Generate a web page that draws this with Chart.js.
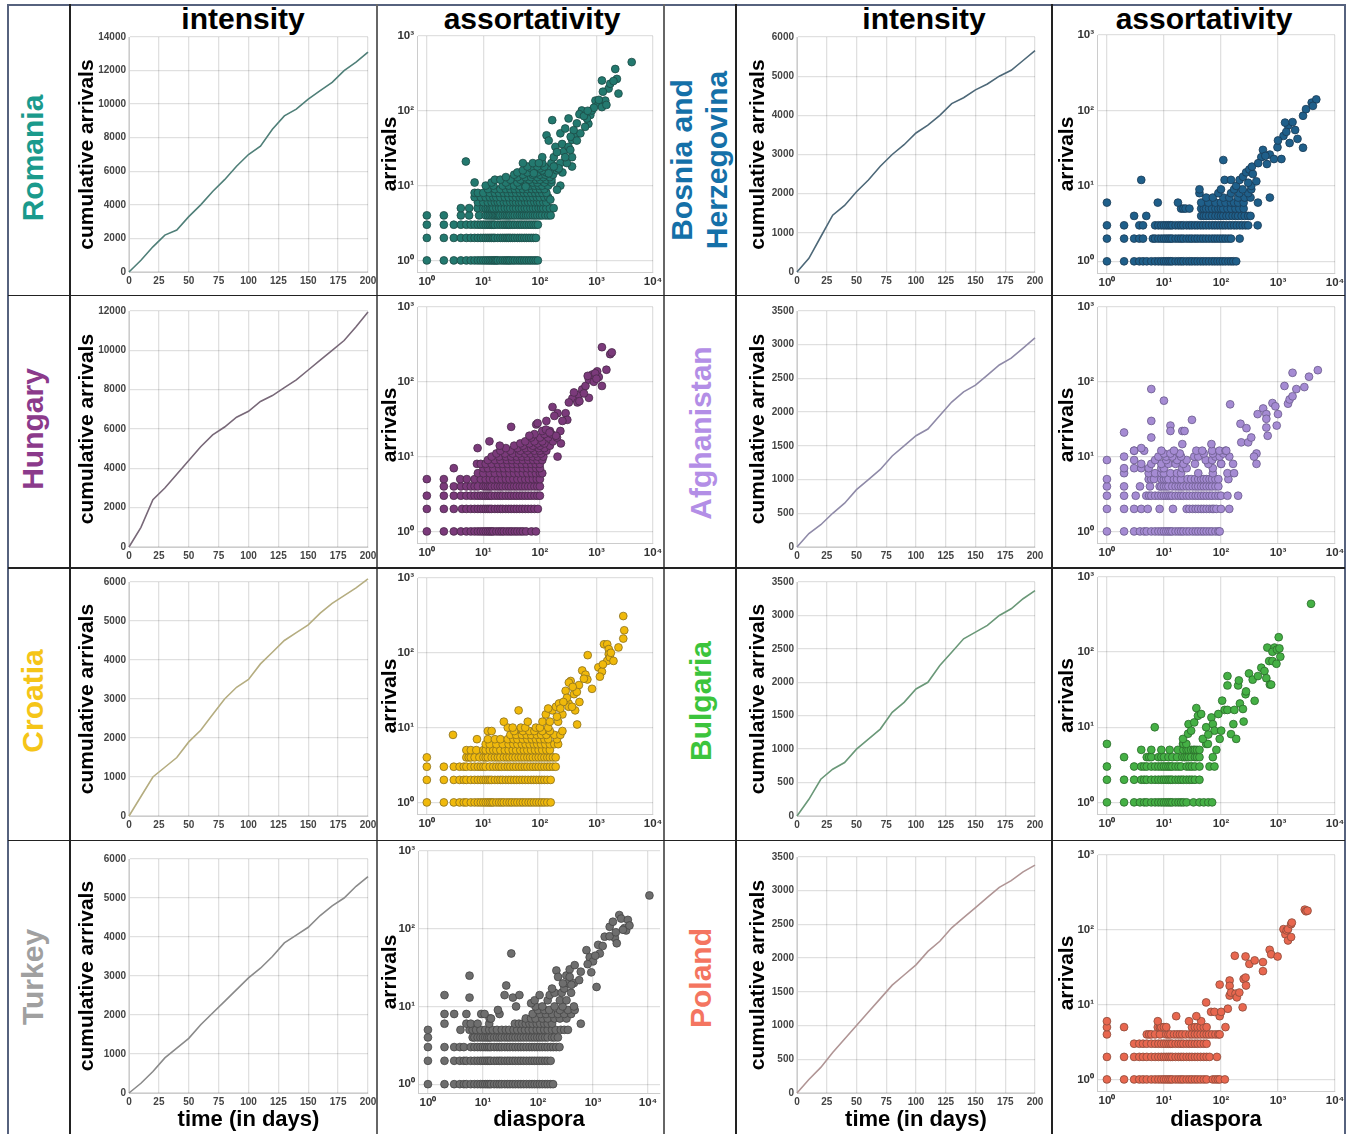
<!DOCTYPE html>
<html>
<head>
<meta charset="utf-8">
<script src="https://cdn.jsdelivr.net/npm/chart.js@4.4.0/dist/chart.umd.min.js"></script>
<style>
  body { margin: 0; background: #fff; font-family: "Liberation Sans", Arial, sans-serif; }
  #fig { position: relative; width: 1351px; height: 1134px; overflow: hidden; background: #fff; }
  #fig canvas { position: absolute; }
  .rule { position: absolute; z-index: 5; }
  .hdr { position: absolute; font-weight: bold; font-size: 30px; line-height: 30px; white-space: nowrap; transform: translate(-50%, -50%); color: #000; }
  .country { position: absolute; font-weight: bold; font-size: 30px; line-height: 35px; white-space: nowrap; text-align: center; transform: translate(-50%, -50%) rotate(-90deg); }
</style>
</head>
<body>
<div id="fig"></div>
<script>
// ---- data ----
const days = [0, 10, 20, 30, 40, 50, 60, 70, 80, 90, 100, 110, 120, 130, 140, 150, 160, 170, 180, 190, 200];
const decadeTicks = [1, 10, 100, 1000, 10000];
const sup = ['⁰', '¹', '²', '³', '⁴'];

const romaniaLine = [0, 700, 1500, 2200, 2500, 3300, 4000, 4800, 5500, 6300, 7000, 7500, 8500, 9300, 9700, 10300, 10800, 11300, 12000, 12500, 13100];
const hungaryLine = [0, 1000, 2400, 3000, 3700, 4400, 5100, 5700, 6100, 6600, 6900, 7400, 7700, 8100, 8500, 9000, 9500, 10000, 10500, 11200, 11950];
const croatiaLine = [0, 500, 1000, 1250, 1500, 1900, 2200, 2600, 3000, 3300, 3500, 3900, 4200, 4500, 4700, 4900, 5200, 5450, 5650, 5850, 6080];
const turkeyLine = [0, 250, 550, 900, 1150, 1400, 1750, 2050, 2350, 2650, 2950, 3200, 3500, 3850, 4050, 4250, 4550, 4800, 5000, 5300, 5550];
const bosniaLine = [0, 350, 900, 1450, 1700, 2050, 2350, 2700, 3000, 3250, 3550, 3750, 4000, 4300, 4450, 4650, 4800, 5000, 5150, 5400, 5650];
const afghanistanLine = [0, 200, 330, 500, 650, 850, 1000, 1150, 1350, 1500, 1650, 1750, 1950, 2150, 2300, 2400, 2550, 2700, 2800, 2950, 3100];
const bulgariaLine = [0, 250, 550, 700, 800, 1000, 1150, 1300, 1550, 1700, 1900, 2000, 2250, 2450, 2650, 2750, 2850, 3000, 3100, 3250, 3370];
const polandLine = [0, 200, 380, 600, 800, 1000, 1200, 1400, 1600, 1750, 1900, 2100, 2250, 2450, 2600, 2750, 2900, 3050, 3150, 3280, 3380];

// scatter: rows of [arrivals, [diaspora values...]] plus loose [diaspora, arrivals] points
const romaniaRows = [
  [1, [1,2,3,4,5,6,7,8,9,10,11,12,13,14,15,16,17,18,20,22,24,26,28,30,33,36,40,44,48,53,58,64,70,77,84,92]],
  [2, [1,2,3,4,5,6,7,8,9,10,11,12,13,14,15,16,18,20,22,24,26,28,30,33,36,40,44,48,53,58,64,70,77,85]],
  [3, [1,2,3,4,5,6,7,8,9,10,11,12,13,14,15,16,18,20,22,24,26,28,30,33,36,40,44,48,53,58,64,70,77,84,92]],
  [4, [1,2,4,5.6,8.4,11,12,13,14,15,16,17,18,19,20,22,24,26,28,30,33,36,40,44,48,52,57,62,68,75,82,90,100,110,125,140,155]],
  [5, [4,5.6,7.9,10,11,12,13,14,15,17,19,21,24,27,30,34,38,43,48,54,60,68,76,85,95,105,115,130,150,175]],
  [6, [8,10,12,14,16,18,20,23,26,30,34,38,43,48,55,62,70,80,90,100,115,130]],
  [7, [7,9,11,13,15,17,20,24,28,33,38,44,50,58,66,76,88,100,120,140]],
  [8, [7,8,10,13,16,19,23,27,32,38,45,52,60,70,82,95,110,130]],
  [9, [12,16,20,25,30,36,43,50,60,72,85,100,120]],
  [10, [11,15,22,28,35,44,55,66,80,95,110,140,230]],
  [11, [7,14,25,40,60,75,90,120,160]],
  [12, [16,20,30,45,65,85,100,130,160]],
  [13, [25,40,55,70,90,115,150]],
  [14, [35,50,75,100,125,170]],
  [15, [40,60,90,130,250]],
  [16, [50,80,110,150,200]],
  [17, [70,100,140,210]],
  [18, [60,90,120,180,370]],
  [20, [50,75,110,160,230,300]]
];
const romaniaPts = [[4.9,21],[131,47],[165,75],[321,79],[188,33],[230,50],[370,41],[550,101],[780,88],[720,67],[960,137],[1250,254],[1640,198],[2150,362],[2450,170],[2300,267],[4200,448],[1430,137],[1090,124],[450,68],[280,58],[247,36],[176,24],[143,40],[110,24],[96,20],[78,14.6],[153,6.5],[201,8.8],[56,9.7],[264,28.5],[321,33],[420,47],[630,61],[520,50],[830,101],[1250,112],[1750,230],[370,24],[215,17],[280,24],[395,55],[345,30],[680,79],[143,14.6],[176,18],[500,90],[600,85],[900,110],[1100,140],[2000,250],[1500,120],[200,28],[350,45],[450,40],[700,100],[1300,180]];

const hungaryRows = [
  [1, [1,2,3,4,5,6,7,8,9,10,11,12,13,14,15,17,19,21,23,26,29,32,36,40,45,50,57,71,85]],
  [2, [1,2,3,4.2,5,6,7,8,9,10,11,12,13,14,16,18,20,22,25,28,31,35,39,44,49,55,62,70,80,92]],
  [3, [1,2,3,4,5,6,7,8,9,10,11,12,13,14,16,18,20,22,25,28,31,35,39,44,49,55,62,70,80,90,100]],
  [4, [2,3,4,5,6,7,8,10,11,12,13,14,16,18,20,22,25,28,31,35,39,44,49,55,62,70,80,90,100]],
  [5, [1,2,3.9,5.1,7,9,11,13,15,18,21,25,29,34,40,47,55,64,75,88,100]],
  [6, [8,10,13,16,20,24,29,35,42,50,60,72,85,100,110]],
  [7, [3,10,12,15,19,23,28,34,41,50,60,72,86,100]],
  [8, [7.7,9,11,14,18,22,27,33,40,48,58,70,84,100]],
  [9, [12,16,20,26,32,40,50,62,76,90,110]],
  [10, [14,19,25,31,39,48,60,75,92,115,205]],
  [11, [17,24,33,43,55,68,85,105]],
  [12, [20,30,45,60,80,100,130]],
  [13, [7.9,25,40,55,70,95,120]],
  [14, [19.5,35,50,75,100,150]],
  [15, [45,65,90,120,235]],
  [16, [12.8,55,80,110,170]],
  [18, [70,100,140,200]],
  [20, [80,120,160]],
  [22, [110,150,230]]
];
const hungaryPts = [[31,25],[86,26.9],[65,19],[167,46],[205,38],[285,38],[305,31],[192,19],[128,23],[91,28],[148,21],[375,60],[490,67],[560,79],[640,88],[735,107],[840,125],[1030,138],[1250,88],[1100,116],[1250,290],[1750,234],[1870,247],[1500,145],[460,53],[735,61],[400,72],[325,53],[250,30],[180,35],[130,30],[600,70],[900,100],[950,130],[700,120],[1000,110],[500,55]];

const croatiaRows = [
  [1, [1,2,3,3.8,4.5,5,6,7,8,9,10,11,12,13,14,15,17,19,21,23,26,29,32,36,40,45,50,56,63,70,78,87,97,108,120,135,155]],
  [2, [1,2,3,3.8,4.5,5,6,7,8,9,10,11,12,13,14,16,18,20,22,25,28,31,35,39,44,49,55,62,70,78,87,97,108,120,135,155]],
  [3, [1,2,3,3.8,4.5,5,6,7,8,9,10,11,13,15,17,19,21,24,27,30,34,38,43,48,54,60,68,76,85,95,107,120,135,150,170,190]],
  [4, [1,5,5.5,6,7,8.5,10,11,12,14,16,18,20,23,26,29,33,37,42,47,53,60,67,75,85,95,107,120,135,150,170,190]],
  [5, [5,6,7.5,10,11,13,15,17,20,24,28,33,38,45,52,60,70,82,95,110,130,150]],
  [6, [11,13,17,22,28,34,40,48,56,66,78,90,105,125,150,180,210]],
  [7, [7.7,12,16,20,27,34,40,50,60,72,85,100,120,140,200]],
  [8, [2.9,30,38,48,58,70,88,105,130,180,230]],
  [9, [12,14,35,50,65,80,110,150,250]],
  [10, [27,33,46,55,85,100,140]],
  [11, [455]],
  [12, [23,61,111,150,210]]
];
const croatiaPts = [[42,17],[127,15],[167,17],[192,19],[218,21],[250,15],[322,21],[420,17],[285,31],[350,42],[325,40],[490,37],[400,28],[322,19],[560,58],[640,51],[690,44],[835,33],[700,93],[1080,64],[1250,56],[1150,48],[1360,130],[1550,130],[1650,112],[1650,96],[1550,78],[1730,87],[2000,78],[2450,118],[2980,155],[3100,200],[2980,310],[370,19],[300,25],[260,22],[450,30],[200,14],[140,18],[600,45],[1300,70],[1800,100],[380,35],[230,18],[500,22]];

const turkeyRows = [
  [1, [1,2,3,3.8,4.5,5,6,7,8,9,10,11,12,13,14,16,18,20,22,25,28,31,35,39,44,49,55,62,70,78,87,97,108,120,135,150,168,188]],
  [2, [1,2,3,3.8,4.5,5,6,7,8,9,10,11,12,13,14,16,18,20,22,25,28,31,35,39,44,49,55,62,70,78,87,97,108,120,135,150,170]],
  [3, [1,2,3,3.8,4.5,6,7,8,9,10,11,12,13,14,16,18,20,22,25,28,31,35,39,44,49,55,62,70,78,87,97,108,120,135,150,170,190,215,246]],
  [4, [1,6.5,7,8,9,10,11,12,13,14,16,18,20,22,25,28,31,35,39,44,49,55,62,70,78,87,97,108,120,135,150,180,200,230]],
  [5, [1,3.9,5.7,6.5,7.5,9,11,13,15,18,22,26,30,36,42,50,58,68,80,95,110,130,150,180,210,260,300,350]],
  [6, [2,5,6,8,13,38,45,52,60,70,80,95,110,130,150,180,600]],
  [7, [13.2,14,60,75,90,120,150,200,250,330]],
  [8, [2,3,5,9.3,10.7,20,80,110,140,180,230,300,400]],
  [9, [18.7,100,130,160,250,350,465]],
  [10, [40,90,120,200,280,450]],
  [11, [75]],
  [12, [87,150,250,330]],
  [13, [5.7,35]],
  [14, [2,24.7,46,107,163]],
  [15, [200,270,400]],
  [17, [180,300]],
  [20, [350,450]]
];
const turkeyPts = [[5.7,24.9],[26.5,18.6],[32.7,48],[216,29],[232,24],[284,19.8],[328,25],[377,30],[465,34],[405,19],[560,21.8],[760,53],[870,43],[930,27.5],[1000,38],[1160,17.8],[1240,62],[1330,48],[1630,79],[2010,106],[2500,76],[2700,65],[2300,123],[3000,150],[3250,135],[3730,102],[4300,130],[4000,95],[3500,97],[4600,110],[10600,268],[377,24],[1100,45],[1500,60],[800,35],[600,28],[2000,80],[2600,90]];

const bosniaRows = [
  [1, [1,2,3,3.7,4.3,5,6,7,8,9,10,11,12,13,14,16,18,20,22,25,28,31,35,39,44,49,55,62,70,78,87,97,108,120,135,150,165,185]],
  [2, [1,2,3,3.7,4.3,6.4,7,8,9,10,11,12,13,14,16,18,20,22,25,28,31,35,39,44,49,55,62,70,78,87,97,108,120,135,150,213]],
  [3, [1,2,3.7,4.3,7,8,9,10,11,12,13,14,16,18,20,22,25,28,31,35,39,44,49,55,62,70,78,87,97,108,120,135,150,170,190,215,240,270,300,440]],
  [4, [3,4.9,45,50,55,62,70,80,90,100,110,125,140,160,180,200,230,260,300,330]],
  [5, [20,22,24,28,45,50,55,62,70,80,90,100,110,130,150,180,210,250]],
  [6, [1,7.8,17.6,45,60,80,100,120,150,170,200,250,445]],
  [7, [55,72,110,140,200,260,330,720]],
  [8, [42,90,150,210,300]],
  [9, [42,100,170,240,340]],
  [10, [185,340]],
  [12, [4,116,150,212]]
];
const bosniaPts = [[110,22],[243,13.2],[276,15.1],[315,16.5],[362,14.4],[417,11.5],[510,24],[545,30],[640,19.5],[720,26],[980,32.5],[1250,46],[1500,63],[1800,70],[1600,37],[2200,42],[2750,32],[850,22.7],[1150,22.7],[1400,52],[1330,69],[2750,85],[3100,104],[3900,127],[4700,140],[4100,115],[300,11],[350,18],[450,20],[600,25],[2000,55],[1000,40]];

const afghanistanRows = [
  [1, [1,2,3,3.8,4.5,5,6,7,8,9,10,11,12,13,14,16,18,20,22,25,28,32,36,40,45,50,56,63,70,80,90,95]],
  [2, [1,2,3,4,5.2,8.4,14.4,25,28,32,36,40,45,50,56,63,70,75,83,100,140]],
  [3, [1,2,3.2,4.9,5.5,6,7,8,9,10,11,12,13,14,16,18,20,22,25,28,32,36,40,45,50,56,63,70,80,90,100,130,200]],
  [4, [1,2,3.8,5.7,8.4,9,10,11,12,14,16,18,20,22,25,28,32,36,40,45,50,56,63,70,80,90]],
  [5, [1,5.4,6,6.7,9,10,11,12,15,17,20,26,30,35,40,45,50,56,63,70,80,90,135]],
  [6, [2,5.4,7,9,10,13,17,20,40,72,130,170]],
  [7, [2,3,4,5.4,9,10,21,25,72]],
  [8, [4,6,9,12,16,22,35,60,100,101,163,420]],
  [9, [1,3,7,11,17,25,54,70]],
  [10, [2,8,11,14,20,34,40,80,95,140]],
  [11, [10,13,19,50,72,110,420]],
  [12, [3,4.5,9,15,37,47,70,94,120,124]]
];
const afghanistanPts = [[2,21],[3,12],[4,13],[6,80],[10,56],[6,30],[6,18],[13,26],[13,22],[21,22],[23,22],[21,14.7],[31,31],[68,14.7],[145,50],[220,27.5],[280,24],[227,15.5],[300,15.5],[340,18],[440,37],[550,44],[625,37],[625,32],[625,24.5],[660,19],[800,52],[900,47],[950,26],[1000,37],[1300,88],[1500,51],[1600,58],[1800,64],[1800,132],[2100,80],[2900,85],[3500,117],[5000,143],[380,10]];

const bulgariaRows = [
  [1, [1,2,3,3.8,4.5,5,6,7,8,9,10,11,12,13,14,16,18,20,22,25,33,42,50,60,70]],
  [2, [1,2,3,4,4.5,5,6,7,8,9,10,11,12,13,14,16,18,20,22,25,28,31,35,42]],
  [3, [1,3,4,4.5,5,6,7,8,9,10,11,12,13,14,16,18,20,25,28,31,35,42,63,77]],
  [4, [2,5,5.5,6,8,9,10,12,14,17,21,23,25,27,30,35,38,42,72]],
  [5, [4,6,9,12.6,17.6,22,25,27,30,33,35,38,42,83]],
  [6, [1,21.6,22,24.7,55,59]]
];
const bulgariaPts = [[6.9,10],[21.6,7],[26.5,8.2],[27,11],[30,9],[34,11.6],[37,18],[39.5,14.2],[45,15],[48,7],[55,10],[68,13.5],[72,11],[77,9],[95,7],[101,9],[105,22.6],[116,17],[130,17],[130,48],[130,36],[150,8.1],[165,11],[172,17],[185,7],[200,36],[206,42],[215,20.7],[243,17.5],[250,11.9],[270,27.5],[275,30],[310,52],[360,43],[390,22.5],[445,48],[510,62],[580,56],[625,45],[650,115],[700,76],[720,37],[760,37],[800,76],[870,115],[800,101],[940,70],[960,108],[1030,158],[1060,112],[1100,87],[3800,440],[90,15],[60,8]];

const polandRows = [
  [1, [1,2,3,3.7,4.3,5,6,7,8,9,10,11,12,13,14,16,18,20,22,25,28,31,35,39,44,50,56,72,80,88,95,117]],
  [2, [1,2,3,3.7,4.3,5,6,7,8,9,10,11,12,13,14,16,18,20,22,25,28,31,35,39,44,50,56,63,85]],
  [3, [3,3.7,4.3,5,6,7,8,9,10,11,12,13,14,16,18,20,22,25,28,31,35,39,44,50,56]],
  [4, [1,5,5.5,6,7,8.5,11,12,13,15,17,19,21,24,28,31,35,39,44,50,56,62,70,80,90,95]],
  [5, [1,2,7.8,8.5,9,10,11,31,35,39,44,50,56,120]],
  [6, [1,7.8,27.5,45]],
  [7, [16.4,37,95]],
  [8, [67,77,101]]
];
const polandPts = [[55,10.7],[95,18.5],[132,8.8],[142,21],[142,17.8],[142,13.2],[150,14.5],[175,45],[180,14],[190,12.5],[210,14.5],[240,9.2],[250,22],[270,23],[275,18],[270,44],[315,35],[390,39],[545,37],[545,28],[715,54],[760,47],[985,44],[1250,102],[1350,87],[1420,98],[1500,102],[1500,72],[1700,80],[1700,119],[1750,125],[2950,186],[3100,177],[3300,180]];

// ---- page frame ----
const fig = document.getElementById('fig');
const FONT = '"Liberation Sans", Arial, sans-serif';

function rule(x, y, w, h, color) {
  const d = document.createElement('div');
  d.className = 'rule';
  d.style.cssText = `left:${x}px;top:${y}px;width:${w}px;height:${h}px;background:${color};`;
  fig.appendChild(d);
}
function text(cls, str, x, y, color) {
  const d = document.createElement('div');
  d.className = cls;
  d.innerHTML = str;
  d.style.left = x + 'px';
  d.style.top = y + 'px';
  if (color) d.style.color = color;
  fig.appendChild(d);
}

// table lines
rule(8, 4, 1338, 2, '#56627e');
rule(7, 4, 2, 1130, '#56627e');
rule(1344, 4, 2, 1130, '#56627e');
rule(69, 4, 1.5, 1130, '#222');
rule(376, 4, 2, 1130, '#666');
rule(663, 4, 2, 1130, '#666');
rule(735, 4, 1.5, 1130, '#222');
rule(1051, 4, 1.5, 1130, '#222');
[294.5, 567, 839.5].forEach(y => rule(8, y, 1337, 1.5, '#222'));

text('hdr', 'intensity', 243, 19);
text('hdr', 'assortativity', 532, 19);
text('hdr', 'intensity', 924, 19);
text('hdr', 'assortativity', 1204, 19);

text('country', 'Romania', 32, 158, '#1a9a8c');
text('country', 'Hungary', 32, 429, '#8b3a8b');
text('country', 'Croatia', 32, 701, '#f5c518');
text('country', 'Turkey', 32, 977, '#a0a0a0');
text('country', 'Bosnia and<br>Herzegovina', 699, 160, '#1570a8');
text('country', 'Afghanistan', 700, 433, '#b38ee6');
text('country', 'Bulgaria', 700, 701, '#3cc43c');
text('country', 'Poland', 700, 978, '#f47560');

// ---- charts ----
function makeCanvas(x, y, w, h) {
  const c = document.createElement('canvas');
  c.width = w; c.height = h;
  c.style.left = x + 'px'; c.style.top = y + 'px';
  c.style.width = w + 'px'; c.style.height = h + 'px';
  fig.appendChild(c);
  return c;
}

const gridColor = 'rgba(0,0,0,0.12)';
const plain = v => String(v);

function titlePad(titleX, x0) {
  return Math.max(0, titleX - x0 - 12.6);
}

function intensityChart(colX, area, titleX, vals, yMax, yStep, color, last) {
  const top = area.t - 10;
  const xh = last ? 1134 - area.b : 22;
  const w = area.r + 14 - colX;
  const h = area.b + xh - top;
  const canvas = makeCanvas(colX, top, w, h);
  const tickFont = { family: FONT, size: 10, weight: 'bold' };
  new Chart(canvas, {
    type: 'line',
    data: {
      datasets: [{
        data: days.map((d, i) => ({ x: d, y: vals[i] })),
        borderColor: color,
        borderWidth: 1.6,
        pointRadius: 0,
        tension: 0,
        clip: 8
      }]
    },
    options: {
      responsive: false, animation: false, devicePixelRatio: 1,
      layout: { padding: { top: area.t - top, right: 14, left: 0, bottom: 0 } },
      plugins: { legend: { display: false }, tooltip: { enabled: false } },
      scales: {
        x: {
          type: 'linear', min: 0, max: 200,
          ticks: { stepSize: 25, callback: plain, font: tickFont, color: '#444', padding: 3, maxRotation: 0, autoSkip: false },
          grid: { color: gridColor, lineWidth: 1.3, drawTicks: false },
          border: { color: '#ccc' },
          title: { display: last, text: 'time (in days)', color: '#000', font: { family: FONT, size: 22, weight: 'bold' }, padding: { top: 0, bottom: 1 } },
          afterFit: s => { s.height = xh; }
        },
        y: {
          type: 'linear', min: 0, max: yMax,
          ticks: { stepSize: yStep, callback: plain, font: tickFont, color: '#444', padding: 3 },
          grid: { color: gridColor, lineWidth: 1.3, drawTicks: false },
          border: { color: '#ccc' },
          title: { display: true, text: 'cumulative arrivals', color: '#000', font: { family: FONT, size: 21, weight: 'bold' }, padding: { top: titlePad(titleX, colX), bottom: 0 } },
          afterFit: s => { s.width = area.l - colX; }
        }
      }
    }
  });
}

function toPoints(rows, pts) {
  const out = [];
  rows.forEach(([y, xs]) => xs.forEach(x => out.push({ x: x, y: y })));
  pts.forEach(([x, y]) => out.push({ x: x, y: y }));
  return out;
}

function decadeLabel(v) {
  const e = Math.round(Math.log10(v));
  return '10' + sup[e];
}

function scatterChart(colX, area, titleX, rows, pts, fill, edge, last, xMin, xMax, yMin) {
  const top = area.t - 10;
  const xh = last ? 1134 - area.b : 22;
  const w = area.r + 14 - colX;
  const h = area.b + xh - top;
  const canvas = makeCanvas(colX, top, w, h);
  const tickFont = { family: FONT, size: 11.5, weight: 'bold' };
  const decades = s => { s.ticks = decadeTicks.filter(v => v >= s.min && v <= s.max * 1.001).map(v => ({ value: v })); };
  new Chart(canvas, {
    type: 'scatter',
    data: {
      datasets: [{
        data: toPoints(rows, pts),
        backgroundColor: fill,
        borderColor: edge,
        borderWidth: 0.8,
        pointRadius: 3.9
      }]
    },
    options: {
      responsive: false, animation: false, devicePixelRatio: 1,
      layout: { padding: { top: area.t - top, right: 14, left: 0, bottom: 0 } },
      plugins: { legend: { display: false }, tooltip: { enabled: false } },
      scales: {
        x: {
          type: 'logarithmic', min: xMin, max: xMax,
          afterBuildTicks: decades,
          ticks: { callback: decadeLabel, font: tickFont, color: '#333', padding: 3, maxRotation: 0, autoSkip: false },
          grid: { color: gridColor, lineWidth: 1.3, drawTicks: false },
          border: { color: '#ccc' },
          title: { display: last, text: 'diaspora', color: '#000', font: { family: FONT, size: 22, weight: 'bold' }, padding: { top: 0, bottom: 1 } },
          afterFit: s => { s.height = xh; }
        },
        y: {
          type: 'logarithmic', min: yMin, max: 1000,
          afterBuildTicks: decades,
          ticks: { callback: decadeLabel, font: tickFont, color: '#333', padding: 3 },
          grid: { color: gridColor, lineWidth: 1.3, drawTicks: false },
          border: { color: '#ccc' },
          title: { display: true, text: 'arrivals', color: '#000', font: { family: FONT, size: 21, weight: 'bold' }, padding: { top: titlePad(titleX, colX), bottom: 0 } },
          afterFit: s => { s.width = area.l - colX; }
        }
      }
    }
  });
}

// intensity, left and right columns
intensityChart(71, { l: 129, r: 368, t: 37, b: 272 }, 87, romaniaLine, 14000, 2000, '#4f7f78', false);
intensityChart(71, { l: 129, r: 368, t: 311, b: 547 }, 87, hungaryLine, 12000, 2000, '#786878', false);
intensityChart(71, { l: 129, r: 368, t: 582, b: 816 }, 87, croatiaLine, 6000, 1000, '#b5ad80', false);
intensityChart(71, { l: 129, r: 368, t: 859, b: 1093 }, 87, turkeyLine, 6000, 1000, '#8a8a8a', true);
intensityChart(737, { l: 797, r: 1035, t: 37, b: 272 }, 758, bosniaLine, 6000, 1000, '#4d6878', false);
intensityChart(737, { l: 797, r: 1035, t: 311, b: 547 }, 758, afghanistanLine, 3500, 500, '#8f8aa8', false);
intensityChart(737, { l: 797, r: 1035, t: 582, b: 816 }, 758, bulgariaLine, 3500, 500, '#6a9878', false);
intensityChart(737, { l: 797, r: 1035, t: 857, b: 1093 }, 758, polandLine, 3500, 500, '#b09595', true);

// assortativity
scatterChart(378, { l: 417, r: 653, t: 36, b: 272 }, 390, romaniaRows, romaniaPts, '#23796f', '#1d4a45', false, 0.67, 10000, 0.71);
scatterChart(378, { l: 417, r: 653, t: 307, b: 543 }, 390, hungaryRows, hungaryPts, '#7b3a7b', '#4a2a4a', false, 0.67, 10000, 0.71);
scatterChart(378, { l: 417, r: 653, t: 578, b: 814 }, 390, croatiaRows, croatiaPts, '#f0b90b', '#8a7020', false, 0.67, 10000, 0.71);
scatterChart(378, { l: 418, r: 660, t: 851, b: 1093 }, 390, turkeyRows, turkeyPts, '#6e6e6e', '#454545', true, 0.66, 16500, 0.77);
scatterChart(1053, { l: 1097, r: 1335, t: 35, b: 273 }, 1067, bosniaRows, bosniaPts, '#1f5f8a', '#1b3b55', false, 0.67, 10000, 0.71);
scatterChart(1053, { l: 1097, r: 1335, t: 307, b: 543 }, 1067, afghanistanRows, afghanistanPts, '#a58bd3', '#6a5a8a', false, 0.67, 10000, 0.71);
scatterChart(1053, { l: 1097, r: 1335, t: 577, b: 814 }, 1067, bulgariaRows, bulgariaPts, '#45b045', '#2a6a2a', false, 0.67, 10000, 0.71);
scatterChart(1053, { l: 1097, r: 1335, t: 855, b: 1091 }, 1067, polandRows, polandPts, '#e8674f', '#8a4a3a', true, 0.67, 10000, 0.73);
</script>
</body>
</html>
